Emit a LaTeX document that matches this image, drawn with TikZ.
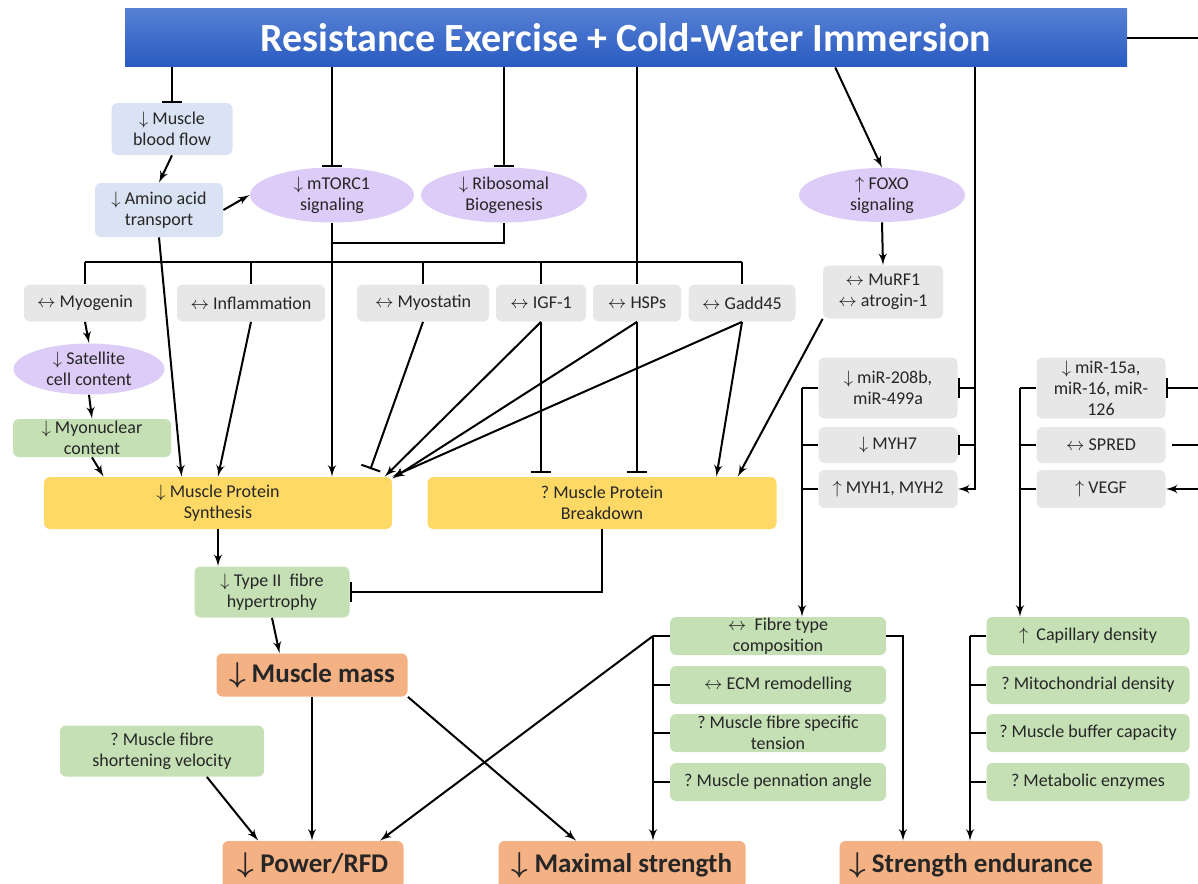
\documentclass[tikz,border=0pt]{standalone}
\usepackage{fontspec}
\setmainfont{Carlito}
\usepackage{tikz}
\usetikzlibrary{shapes.geometric,arrows,arrows.meta}
\frenchspacing
\definecolor{ink}{RGB}{38,38,38}
\definecolor{hdrtop}{RGB}{86,128,212}
\definecolor{hdrbottom}{RGB}{40,90,192}
\definecolor{flowblue}{RGB}{218,227,243}
\definecolor{lilac}{RGB}{221,204,247}
\definecolor{markgrey}{RGB}{231,231,231}
\definecolor{leafgreen}{RGB}{197,224,180}
\definecolor{proteinyellow}{RGB}{255,217,102}
\definecolor{outcomeorange}{RGB}{244,177,131}
\tikzstyle{banner}=[top color=hdrtop, bottom color=hdrbottom, minimum width=501pt,
  minimum height=29pt, inner sep=0pt, text=white, font=\fontsize{20}{24}\selectfont\bfseries]
\tikzstyle{factor}=[rounded corners=3pt, align=center, inner sep=0pt, text=ink,
  font=\fontsize{9}{10.5}\selectfont]
\tikzstyle{bluebox}=[factor, fill=flowblue]
\tikzstyle{greybox}=[factor, fill=markgrey]
\tikzstyle{greenbox}=[factor, fill=leafgreen]
\tikzstyle{yellowbox}=[factor, fill=proteinyellow]
\tikzstyle{outcome}=[factor, fill=outcomeorange, font=\fontsize{13.5}{16}\selectfont\bfseries\boldmath]
\tikzstyle{signal}=[ellipse, fill=lilac, inner sep=0pt, align=center, text=ink,
  font=\fontsize{9}{10.5}\selectfont]
\tikzstyle{link}=[draw, line width=1pt]
\tikzstyle{line}=[draw, line width=1pt, -latex']
\tikzstyle{inhib}=[draw, line width=1pt, -{Bar[width=10pt]}]
\newcommand{\factor}[3]{node (#1) [#2] {#3}}
\newcommand{\decr}{$\downarrow$}
\newcommand{\incr}{$\uparrow$}
\newcommand{\nochg}{$\leftrightarrow$}

\begin{document}
\begin{tikzpicture}[x=0.5pt,y=-0.5pt]
  \useasboundingbox (0,0) rectangle (1198,883);
  \clip (0,0) rectangle (1198,883);

  % intervention banner
  \path (626,38) node (HEADER) [banner] {Resistance Exercise + Cold-Water Immersion};

  % signalling area
  \path (172,129) \factor{BLOOD}{bluebox, minimum width=60.5pt, minimum height=26pt}{\decr\ Muscle\\blood flow};
  \path (159,210) \factor{AMINO}{bluebox, minimum width=64pt, minimum height=27pt}{\decr\ Amino acid\\transport};
  \path (332,195) \factor{MTORC}{signal, minimum width=82pt, minimum height=27.5pt}{\decr\ mTORC1\\signaling};
  \path (MTORC.center)+(172,0) \factor{RIBO}{signal, minimum width=83pt, minimum height=27.5pt}{\decr\ Ribosomal\\Biogenesis};
  \path (882,195) \factor{FOXO}{signal, minimum width=83pt, minimum height=27pt}{\incr\ FOXO\\signaling};
  \path (FOXO.center)+(1,97) \factor{MURF}{greybox, minimum width=60pt, minimum height=26.5pt}{\nochg\ MuRF1\\\nochg\ atrogin-1};

  % molecular markers row
  \path (85,303) \factor{MYOG}{greybox, minimum width=61pt, minimum height=18.5pt}{\nochg\ Myogenin};
  \path (251,303) \factor{INFLAM}{greybox, minimum width=74pt, minimum height=18.5pt}{\nochg\ Inflammation};
  \path (423,303) \factor{MSTN}{greybox, minimum width=66pt, minimum height=18.5pt}{\nochg\ Myostatin};
  \path (541,303) \factor{IGF}{greybox, minimum width=45pt, minimum height=18.5pt}{\nochg\ IGF-1};
  \path (637,303) \factor{HSP}{greybox, minimum width=44pt, minimum height=18.5pt}{\nochg\ HSPs};
  \path (742,303) \factor{GADD}{greybox, minimum width=53.5pt, minimum height=18.5pt}{\nochg\ Gadd45};
  \path (MYOG.center)+(4,66) \factor{SATEL}{signal, minimum width=75.5pt, minimum height=25.5pt}{\decr\ Satellite\\cell content};
  \path (SATEL.center)+(3,69) \factor{MYONUC}{greenbox, minimum width=79pt, minimum height=19pt}{\decr\ Myonuclear\\content};

  % protein turnover
  \path (218,503) \factor{MPS}{yellowbox, minimum width=174pt, minimum height=26pt}{\decr\ Muscle Protein\\Synthesis};
  \path (602,503) \factor{MPB}{yellowbox, minimum width=174.5pt, minimum height=26pt}{? Muscle Protein\\Breakdown};
  \path (272,592) \factor{TYPE2}{greenbox, minimum width=77.5pt, minimum height=25.5pt}{\decr\ Type II\ \ fibre\\hypertrophy};
  \path (312,675) \factor{MASS}{outcome, minimum width=95.5pt, minimum height=21.5pt}{\decr\ Muscle mass};
  \path (162,751) \factor{VELO}{greenbox, minimum width=102pt, minimum height=25.5pt}{? Muscle fibre\\shortening velocity};

  % fibre type and vascular genes
  \path (888,388) \factor{MIRA}{greybox, minimum width=69.5pt, minimum height=30.5pt}{\decr\ miR-208b,\\miR-499a};
  \path (888,445) \factor{MYHS}{greybox, minimum width=69.5pt, minimum height=18pt}{\decr\ MYH7};
  \path (888,489) \factor{MYHF}{greybox, minimum width=69.5pt, minimum height=19pt}{\incr\ MYH1, MYH2};
  \path (1101,388) \factor{MIRB}{greybox, minimum width=64.5pt, minimum height=30.5pt}{\decr\ miR-15a,\\miR-16, miR-\\126};
  \path (1101,445) \factor{SPRED}{greybox, minimum width=64.5pt, minimum height=18pt}{\nochg\ SPRED};
  \path (1101,489) \factor{VEGF}{greybox, minimum width=64.5pt, minimum height=19pt}{\incr\ VEGF};

  % muscle properties
  \path (778,636) \factor{FIBRE}{greenbox, minimum width=108pt, minimum height=19pt}{\nochg\ \ Fibre type\\composition};
  \path (FIBRE.center)+(0,49) \factor{ECM}{greenbox, minimum width=108pt, minimum height=19pt}{\nochg\ ECM remodelling};
  \path (ECM.center)+(0,48) \factor{TENSION}{greenbox, minimum width=108pt, minimum height=19pt}{? Muscle fibre specific\\tension};
  \path (TENSION.center)+(0,49) \factor{PENNA}{greenbox, minimum width=108pt, minimum height=19pt}{? Muscle pennation angle};
  \path (1088,636) \factor{CAPIL}{greenbox, minimum width=101.5pt, minimum height=19pt}{\incr\ \ Capillary density};
  \path (CAPIL.center)+(0,49) \factor{MITO}{greenbox, minimum width=101.5pt, minimum height=19pt}{? Mitochondrial density};
  \path (MITO.center)+(0,48) \factor{BUFFER}{greenbox, minimum width=101.5pt, minimum height=19pt}{? Muscle buffer capacity};
  \path (BUFFER.center)+(0,49) \factor{ENZYME}{greenbox, minimum width=101.5pt, minimum height=19pt}{? Metabolic enzymes};

  % performance outcomes
  \path (313,865) \factor{POWER}{outcome, minimum width=90.5pt, minimum height=24pt}{\decr\ Power/RFD};
  \path (622,865) \factor{MAXSTR}{outcome, minimum width=123.5pt, minimum height=24pt}{\decr\ Maximal strength};
  \path (971,865) \factor{ENDUR}{outcome, minimum width=131.5pt, minimum height=24pt}{\decr\ Strength endurance};

  % rails and joints
  \coordinate (JOIN) at (332,243);
  \coordinate (BUS) at (0,262);
  \coordinate (RIM) at (1198,0);
  \coordinate (MUSCRAIL) at (975,0);
  \coordinate (FIBRAIL) at (802,0);
  \coordinate (VASCRAIL) at (1020,0);
  \coordinate (STRRAIL) at (653,0);
  \coordinate (ENDRAIL) at (903,0);
  \coordinate (CAPRAIL) at (970,0);

  % Draw arrows between elements

  % banner outputs
  \path [inhib] (BLOOD.north |- HEADER.south) -- (BLOOD.north);
  \path [inhib] (MTORC.north |- HEADER.south) -- (MTORC.north);
  \path [inhib] (RIBO.north |- HEADER.south) -- (RIBO.north);
  \path [link] (HSP.north |- HEADER.south) -- (HSP.north);
  \path [line] (HEADER.-8.86) -- (FOXO.north);
  \path [link] (HEADER.east) -- (HEADER.east -| RIM);

  % signalling block
  \path [line] (BLOOD.south) -- (AMINO.north);
  \path [line] (AMINO.east) -- (MTORC.west);
  \path [link] (RIBO.south) |- (JOIN);
  \path [line] (FOXO.south) -- (MURF.north);
  \path [link] (MYOG.north |- BUS) -- (GADD.north |- BUS);
  \path [link] (MYOG.north |- BUS) -- (MYOG.north);
  \path [link] (INFLAM.north |- BUS) -- (INFLAM.north);
  \path [link] (MSTN.north |- BUS) -- (MSTN.north);
  \path [link] (IGF.north |- BUS) -- (IGF.north);
  \path [link] (GADD.north |- BUS) -- (GADD.north);
  \path [line] (MYOG.south) -- (SATEL.north);
  \path [line] (SATEL.south) -- (MYONUC.north);

  % synthesis and breakdown inputs
  \path [line] (MYONUC.south) -- (MPS.167.6);
  \path [line] (AMINO.south) -- (MPS.144.9);
  \path [line] (INFLAM.south) -- (MPS.north);
  \path [line] (MTORC.south) -- (MTORC.south |- MPS.north);
  \path [inhib, shorten >=4pt] (MSTN.south) -- (MPS.10.6);
  \path [line] (IGF.south) -- (MPS.9.9);
  \path [line] (HSP.south) -- (MPS.8.85);
  \path [line] (GADD.south) -- (MPS.north east);
  \path [inhib, shorten >=2pt] (IGF.south) -- (IGF.south |- MPB.north);
  \path [inhib, shorten >=2pt] (HSP.south) -- (HSP.south |- MPB.north);
  \path [line] (GADD.south) -- (MPB.13.9);
  \path [line] (MURF.south west) -- (MPB.11.2);

  % gene expression block
  \path [line] (HEADER.south -| MUSCRAIL) |- (MYHF.east);
  \path [inhib] (MUSCRAIL |- MIRA.east) -- (MIRA.east);
  \path [inhib] (MUSCRAIL |- MYHS.east) -- (MYHS.east);
  \path [inhib] (RIM |- MIRB.east) -- (MIRB.east);
  \path [link, shorten >=3pt] (RIM |- SPRED.east) -- (SPRED.east);
  \path [line] (RIM |- VEGF.east) -- (VEGF.east);
  \path [link] (MIRA.west) -- (MIRA.west -| FIBRAIL);
  \path [link] (MYHS.west) -- (MYHS.west -| FIBRAIL);
  \path [link] (MYHF.west) -- (MYHF.west -| FIBRAIL);
  \path [line] (MIRA.west -| FIBRAIL) -- (FIBRAIL |- FIBRE.north);
  \path [link] (MIRB.west) -- (MIRB.west -| VASCRAIL);
  \path [link] (SPRED.west) -- (SPRED.west -| VASCRAIL);
  \path [link] (VEGF.west) -- (VEGF.west -| VASCRAIL);
  \path [line] (MIRB.west -| VASCRAIL) -- (VASCRAIL |- CAPIL.north);

  % hypertrophy and outcomes
  \path [line] (MPS.south) -- (MPS.south |- TYPE2.north);
  \path [inhib] (MPB.south) |- (TYPE2.east);
  \path [line] (TYPE2.south) -- (MASS.146.9);
  \path [line] (MASS.south) -- (MASS.south |- POWER.north);
  \path [line] (MASS.south east) -- (MAXSTR.152.4);
  \path [line] (VELO.-30.7) -- (POWER.156.8);
  \path [link] (FIBRE.west) -- (FIBRE.west -| STRRAIL);
  \path [link] (ECM.west) -- (ECM.west -| STRRAIL);
  \path [link] (TENSION.west) -- (TENSION.west -| STRRAIL);
  \path [link] (PENNA.west) -- (PENNA.west -| STRRAIL);
  \path [line] (FIBRE.west -| STRRAIL) -- (STRRAIL |- MAXSTR.north);
  \path [line] (FIBRE.west -| STRRAIL) -- (POWER.20.3);
  \path [line] (FIBRE.east) -| (ENDRAIL |- ENDUR.north);
  \path [link] (CAPIL.west) -- (CAPIL.west -| CAPRAIL);
  \path [link] (MITO.west) -- (MITO.west -| CAPRAIL);
  \path [link] (BUFFER.west) -- (BUFFER.west -| CAPRAIL);
  \path [link] (ENZYME.west) -- (ENZYME.west -| CAPRAIL);
  \path [line] (CAPIL.west -| CAPRAIL) -- (CAPRAIL |- ENDUR.north);

\end{tikzpicture}
\end{document}
